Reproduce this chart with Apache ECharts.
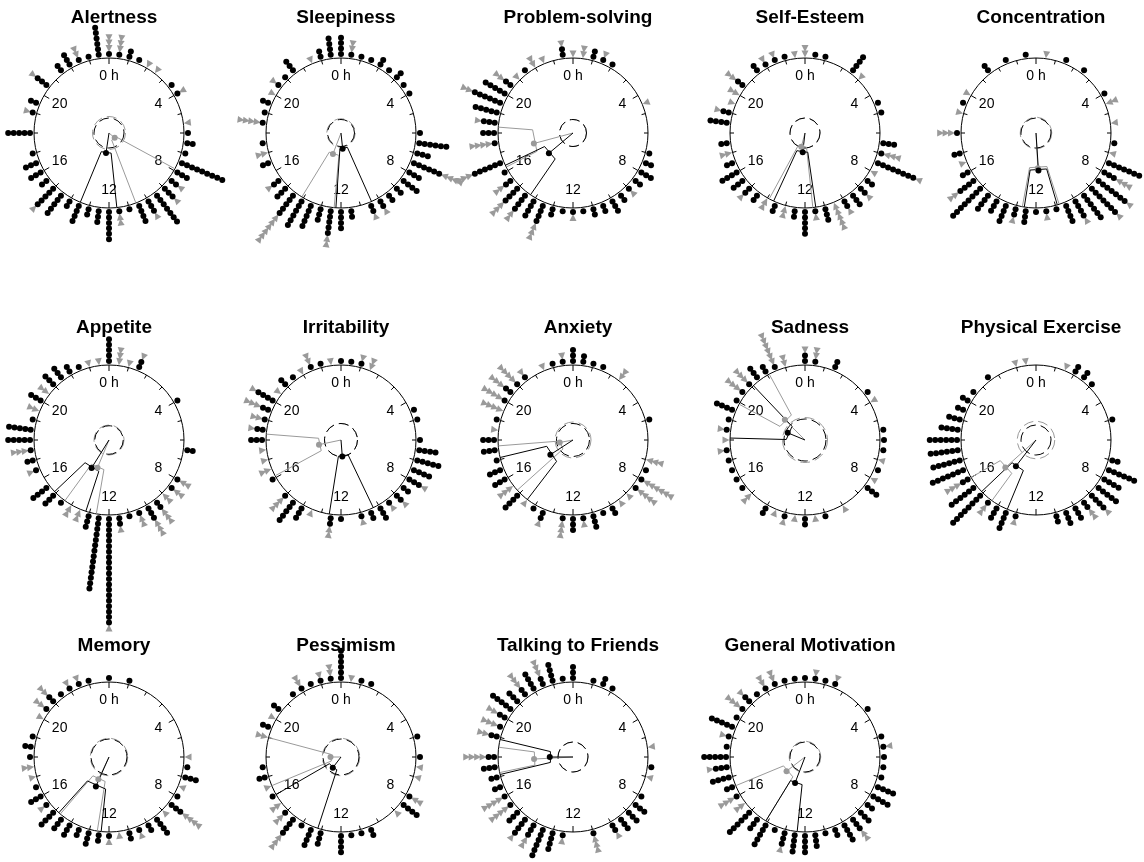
<!DOCTYPE html>
<html>
<head>
<meta charset="utf-8">
<script src="https://cdn.jsdelivr.net/npm/echarts@6/dist/echarts.min.js"></script>
<style>
  html, body { margin: 0; padding: 0; background: #fff; }
  #chart { width: 1144px; height: 862px; }
</style>
</head>
<body>
<div id="chart"></div>
<script>
const titles = [
  'Alertness', 'Sleepiness', 'Problem-solving', 'Self-Esteem', 'Concentration',
  'Appetite', 'Irritability', 'Anxiety', 'Sadness', 'Physical Exercise',
  'Memory', 'Pessimism', 'Talking to Friends', 'General Motivation',
]
const hourTicks = [0, 4, 8, 12, 16, 20]
const hourLabels = ['0 h', '4', '8', '12', '16', '20']

// stacked counts per half-hour bin (48 bins: 0h, 0.5h ... 23.5h)
// black = filled circles, gray = triangles stacked on top of them
const alertnessBlack = [
  1, 1, 2, 1, 0, 0, 0, 1, 1, 0, 0, 0,
  1, 2, 1, 9, 3, 2, 3, 7, 3, 4, 1, 1,
  6, 3, 2, 4, 2, 5, 5, 2, 3, 3, 1, 0,
  5, 0, 1, 2, 0, 3, 0, 2, 3, 1, 1, 6]
const alertnessGray = [
  3, 3, 0, 0, 1, 1, 0, 0, 1, 0, 0, 1,
  0, 0, 0, 0, 0, 1, 1, 0, 1, 0, 0, 2,
  0, 0, 0, 0, 0, 0, 1, 0, 0, 0, 0, 0,
  0, 0, 1, 0, 0, 1, 0, 0, 0, 2, 0, 0]
const sleepinessBlack = [
  4, 1, 1, 1, 2, 1, 2, 1, 1, 0, 0, 0,
  1, 6, 3, 6, 3, 4, 2, 2, 2, 2, 0, 2,
  4, 5, 3, 5, 6, 5, 3, 2, 0, 2, 0, 1,
  0, 1, 1, 2, 0, 1, 1, 3, 0, 0, 2, 4]
const sleepinessGray = [
  0, 2, 0, 0, 0, 0, 0, 0, 0, 0, 0, 0,
  0, 0, 0, 4, 0, 0, 0, 0, 1, 1, 0, 0,
  0, 2, 0, 0, 0, 6, 0, 1, 0, 0, 2, 0,
  0, 4, 0, 0, 1, 1, 0, 0, 0, 1, 0, 0]
const problemBlack = [
  0, 0, 2, 1, 1, 0, 0, 0, 0, 0, 0, 0,
  0, 0, 1, 2, 3, 2, 1, 2, 3, 2, 2, 1,
  1, 1, 2, 4, 4, 4, 4, 2, 1, 6, 0, 1,
  3, 3, 5, 6, 5, 2, 0, 1, 0, 0, 0, 2]
const problemGray = [
  1, 2, 0, 1, 0, 0, 0, 0, 0, 1, 0, 0,
  0, 0, 0, 0, 0, 0, 1, 0, 0, 0, 0, 0,
  1, 0, 0, 3, 0, 2, 3, 2, 0, 3, 0, 4,
  0, 1, 0, 2, 0, 2, 1, 0, 2, 1, 0, 1]
const esteemBlack = [
  0, 1, 1, 0, 0, 4, 0, 0, 0, 1, 1, 0,
  0, 3, 1, 8, 0, 2, 2, 3, 2, 0, 3, 1,
  5, 2, 0, 2, 0, 2, 2, 3, 4, 2, 0, 2,
  0, 4, 2, 0, 0, 2, 0, 2, 1, 1, 1, 0]
const esteemGray = [
  2, 0, 0, 0, 0, 0, 1, 0, 0, 0, 0, 0,
  0, 0, 3, 1, 1, 0, 1, 0, 1, 5, 0, 1,
  0, 0, 2, 0, 2, 0, 1, 0, 0, 0, 2, 0,
  0, 0, 1, 1, 2, 2, 0, 0, 1, 1, 0, 1]
const concentrationBlack = [
  0, 0, 0, 1, 0, 1, 0, 0, 1, 0, 0, 0,
  0, 1, 0, 7, 3, 7, 7, 6, 4, 4, 1, 1,
  1, 3, 2, 4, 3, 4, 8, 4, 2, 0, 2, 0,
  1, 0, 0, 1, 0, 0, 0, 2, 0, 1, 0, 1]
const concentrationGray = [
  0, 1, 0, 0, 0, 0, 0, 0, 0, 2, 0, 1,
  0, 0, 1, 0, 3, 1, 1, 0, 1, 0, 0, 1,
  0, 0, 1, 0, 0, 0, 0, 2, 0, 1, 0, 0,
  3, 0, 1, 0, 1, 0, 0, 0, 0, 0, 0, 0]
const appetiteBlack = [
  5, 0, 0, 2, 0, 0, 0, 0, 1, 0, 0, 0,
  0, 2, 0, 0, 1, 1, 0, 2, 3, 1, 1, 2,
  20, 14, 3, 0, 0, 1, 3, 4, 0, 1, 2, 1,
  5, 5, 1, 0, 3, 0, 3, 3, 2, 1, 0, 0]
const appetiteGray = [
  0, 3, 1, 1, 0, 0, 0, 0, 0, 0, 0, 0,
  0, 0, 0, 0, 2, 2, 2, 3, 3, 2, 0, 1,
  1, 0, 0, 2, 2, 0, 0, 0, 0, 1, 0, 3,
  0, 0, 0, 2, 0, 2, 0, 0, 0, 0, 1, 1]
const irritabilityBlack = [
  1, 1, 1, 0, 0, 0, 0, 0, 0, 1, 1, 0,
  1, 4, 5, 4, 3, 2, 2, 1, 3, 2, 1, 0,
  1, 2, 0, 0, 3, 5, 1, 0, 1, 0, 0, 0,
  3, 2, 1, 2, 4, 0, 2, 1, 0, 1, 1, 0]
const irritabilityGray = [
  0, 0, 1, 2, 0, 0, 0, 0, 0, 0, 0, 0,
  0, 0, 0, 0, 1, 0, 1, 1, 0, 0, 1, 0,
  0, 2, 0, 1, 0, 0, 3, 0, 0, 2, 1, 1,
  0, 1, 2, 3, 1, 1, 0, 0, 1, 2, 0, 1]
const anxietyBlack = [
  3, 2, 1, 1, 0, 0, 0, 0, 0, 0, 1, 0,
  0, 0, 0, 1, 1, 1, 0, 0, 2, 1, 3, 1,
  3, 1, 0, 2, 1, 0, 4, 0, 3, 3, 1, 3,
  3, 0, 1, 0, 1, 2, 1, 1, 0, 0, 1, 1]
const anxietyGray = [
  0, 0, 0, 0, 0, 2, 0, 0, 0, 0, 0, 0,
  0, 0, 3, 0, 6, 4, 1, 1, 0, 0, 0, 1,
  0, 3, 0, 1, 0, 1, 0, 3, 0, 0, 0, 0,
  0, 1, 0, 4, 4, 3, 4, 1, 0, 1, 0, 1]
const sadnessBlack = [
  2, 1, 0, 2, 0, 0, 0, 1, 0, 0, 0, 1,
  1, 1, 0, 1, 0, 3, 0, 0, 0, 0, 1, 0,
  2, 0, 1, 0, 2, 0, 0, 1, 1, 1, 1, 1,
  0, 1, 1, 4, 1, 1, 1, 3, 2, 1, 0, 0]
const sadnessGray = [
  1, 2, 0, 0, 0, 0, 0, 0, 1, 0, 0, 0,
  0, 0, 1, 0, 1, 0, 0, 0, 1, 0, 0, 1,
  0, 1, 1, 1, 0, 0, 2, 0, 0, 0, 0, 1,
  1, 1, 0, 0, 0, 3, 3, 0, 0, 6, 2, 0]
const exerciseBlack = [
  0, 0, 0, 0, 2, 2, 1, 0, 0, 0, 1, 0,
  0, 0, 2, 6, 4, 5, 4, 2, 3, 3, 2, 0,
  0, 0, 1, 4, 3, 1, 8, 6, 2, 7, 6, 6,
  6, 4, 3, 2, 2, 1, 0, 1, 0, 0, 0, 0]
const exerciseGray = [
  0, 0, 0, 1, 0, 0, 0, 0, 0, 0, 0, 0,
  0, 0, 0, 0, 0, 0, 1, 2, 0, 0, 0, 0,
  0, 0, 1, 0, 0, 2, 0, 0, 3, 0, 0, 0,
  0, 0, 0, 0, 0, 0, 0, 0, 0, 0, 1, 1]
const memoryBlack = [
  1, 0, 1, 0, 0, 0, 0, 0, 0, 0, 0, 0,
  0, 1, 3, 0, 1, 3, 0, 4, 2, 1, 2, 0,
  1, 2, 3, 2, 3, 3, 4, 1, 3, 1, 0, 0,
  1, 2, 1, 0, 0, 1, 2, 1, 1, 1, 1, 0]
const memoryGray = [
  0, 0, 0, 0, 0, 0, 0, 0, 0, 0, 0, 0,
  1, 0, 0, 1, 0, 4, 1, 0, 0, 1, 0, 1,
  1, 0, 0, 0, 0, 0, 0, 1, 0, 0, 1, 2,
  0, 0, 0, 0, 1, 2, 2, 0, 1, 1, 0, 0]
const pessimismBlack = [
  6, 0, 1, 1, 0, 0, 0, 0, 0, 0, 1, 0,
  1, 0, 0, 0, 1, 4, 0, 0, 0, 2, 1, 1,
  4, 0, 3, 4, 1, 4, 1, 0, 1, 0, 2, 1,
  0, 0, 0, 2, 0, 2, 0, 1, 1, 1, 1, 1]
const pessimismGray = [
  0, 1, 0, 0, 0, 0, 0, 0, 0, 0, 0, 0,
  0, 1, 1, 0, 2, 0, 1, 0, 0, 0, 0, 0,
  0, 0, 0, 0, 0, 3, 2, 2, 0, 1, 0, 0,
  0, 0, 2, 0, 1, 0, 0, 0, 2, 0, 1, 2]
const talkingBlack = [
  3, 0, 1, 2, 1, 0, 0, 0, 0, 0, 0, 0,
  0, 1, 0, 0, 1, 3, 3, 3, 2, 0, 1, 0,
  0, 1, 4, 6, 3, 4, 3, 1, 1, 2, 2, 3,
  2, 0, 2, 1, 2, 5, 3, 2, 4, 2, 4, 1]
const talkingGray = [
  0, 0, 0, 0, 0, 0, 0, 0, 0, 0, 0, 1,
  0, 0, 1, 0, 0, 0, 0, 0, 1, 0, 3, 0,
  0, 1, 0, 0, 2, 1, 0, 4, 4, 0, 0, 0,
  4, 0, 2, 3, 2, 0, 0, 3, 0, 3, 0, 0]
const motivationBlack = [
  1, 1, 1, 1, 0, 0, 0, 1, 0, 0, 1, 1,
  1, 1, 1, 4, 4, 2, 3, 3, 4, 2, 1, 3,
  4, 4, 3, 1, 5, 3, 6, 0, 1, 2, 4, 3,
  5, 1, 1, 5, 1, 1, 2, 1, 1, 1, 1, 1]
const motivationGray = [
  0, 1, 0, 1, 0, 0, 0, 0, 0, 0, 0, 1,
  0, 0, 0, 0, 0, 0, 0, 2, 0, 0, 0, 0,
  0, 0, 1, 0, 0, 0, 0, 2, 3, 0, 0, 1,
  0, 0, 1, 0, 0, 3, 1, 0, 2, 2, 0, 0]

// [mean hour, mean resultant length, CI low, CI high, dashed ring radius]
const alertnessSummary = [[12.57, 0.27, 11.6, 13.5, 0.2], [8.7, 0.1, 7.9, 10.6, 0.22]]
const sleepinessSummary = [[11.6, 0.21, 10.4, 12.26, 0.18], [13.4, 0.3, 12.35, 14.1, 0.19]]
const problemSummary = [[15.33, 0.42, 14.3, 16.3, 0.18], [17, 0.54, 16.2, 18.3, 0.18]]
const esteemSummary = [[12.45, 0.26, 11.45, 13.65, 0.2], [13.0, 0.19, 11.6, 13.9, 0.2]]
const concentrationSummary = [[11.75, 0.5, 10.9, 12.6, 0.2], [11.8, 0.47, 10.8, 12.7, 0.21]]
const appetiteSummary = [[14.13, 0.44, 13.2, 15.1, 0.19], [13.5, 0.4, 12.65, 14.4, 0.2]]
const irritabilitySummary = [[11.7, 0.22, 10.3, 12.6, 0.22], [17.2, 0.3, 16.1, 18.3, 0.22]]
const anxietySummary = [[15.8, 0.36, 14.5, 17.1, 0.22], [17.3, 0.18, 15.2, 17.7, 0.24]]
const sadnessSummary = [[19.5, 0.25, 18.1, 21.1, 0.28], [21.0, 0.38, 19.9, 22.1, 0.3]]
const exerciseSummary = [[14.5, 0.44, 13.5, 15.1, 0.2], [15.2, 0.55, 14.4, 16.0, 0.25]]
const memorySummary = [[13.6, 0.43, 12.4, 14.8, 0.24], [13.7, 0.33, 12.6, 14.7, 0.25]]
const pessimismSummary = [[14.5, 0.18, 13.2, 16.0, 0.24], [18.0, 0.14, 16.5, 19.0, 0.25]]
const talkingSummary = [[18.0, 0.31, 17.1, 18.9, 0.2], [17.8, 0.52, 17.2, 18.5, 0.2]]
const motivationSummary = [[13.4, 0.37, 12.4, 14.1, 0.2], [15.5, 0.31, 14.1, 16.5, 0.21]]

const panels = [
  [alertnessBlack, alertnessGray, alertnessSummary],
  [sleepinessBlack, sleepinessGray, sleepinessSummary],
  [problemBlack, problemGray, problemSummary],
  [esteemBlack, esteemGray, esteemSummary],
  [concentrationBlack, concentrationGray, concentrationSummary],
  [appetiteBlack, appetiteGray, appetiteSummary],
  [irritabilityBlack, irritabilityGray, irritabilitySummary],
  [anxietyBlack, anxietyGray, anxietySummary],
  [sadnessBlack, sadnessGray, sadnessSummary],
  [exerciseBlack, exerciseGray, exerciseSummary],
  [memoryBlack, memoryGray, memorySummary],
  [pessimismBlack, pessimismGray, pessimismSummary],
  [talkingBlack, talkingGray, talkingSummary],
  [motivationBlack, motivationGray, motivationSummary],
]

// layout
const colX = [109, 341, 573, 805, 1036]
const rowY = [133, 440, 757]
const titleTop = [3, 313, 631]
const R = 75            // circle radius in px
const OUTER = 4         // outer polar spans 4 circle radii
const GAP = 0.053       // first stacked point just outside the circle
const STEP = 0.0727     // distance between stacked points
const LABEL_R = 0.76    // hour labels sit inside the circle
const FONT = 'Liberation Sans, Arial, sans-serif'
const GRAY = '#9a9a9a'

const title = [], polar = [], angleAxis = [], radiusAxis = [], series = []

function summarySeries(s, color, polarIndex) {
  const [mean, len, lo, hi, ring] = s
  const base = { coordinateSystem: 'polar', polarIndex, silent: true, animation: false }
  return [
    { ...base, type: 'scatter', data: [[0, 0]], symbol: 'circle', symbolSize: ring * 2 * R,
      itemStyle: { color: 'rgba(0,0,0,0)', borderColor: color, borderWidth: 1, borderType: [10, 5], opacity: 1 }, z: 3 },
    { ...base, type: 'line', data: [[1, lo], [len, lo], [len, hi], [1, hi]], symbol: 'none',
      lineStyle: { color, width: 1 }, z: 4 },
    { ...base, type: 'line', data: [{ value: [0, mean], symbol: 'none' }, { value: [len, mean], symbol: 'circle', symbolSize: 6 }],
      showSymbol: true, symbol: 'none', itemStyle: { color, opacity: 1 }, lineStyle: { color, width: 1 }, z: 5 },
  ]
}

panels.forEach(([black, gray, summary], i) => {
  const row = Math.floor(i / 5)
  const center = [colX[i % 5], rowY[row]]
  title.push({
    text: titles[i], left: center[0], top: titleTop[row], textAlign: 'center',
    textStyle: { fontSize: 19, fontWeight: 'bold', color: '#000', fontFamily: FONT },
  })

  // circle with hour ticks
  const inner = polar.length
  polar.push({ center, radius: R })
  angleAxis.push({
    polarIndex: inner, type: 'value', min: 0, max: 24, interval: 4, startAngle: 90, clockwise: true,
    axisLine: { lineStyle: { color: '#000', width: 1 } },
    axisTick: { inside: true, length: 6, lineStyle: { color: '#000', width: 1 } },
    minorTick: { show: true, splitNumber: 4, length: 4, lineStyle: { color: '#000', width: 1 } },
    splitLine: { show: false },
    axisLabel: { show: false },
  })
  radiusAxis.push({ polarIndex: inner, type: 'value', min: 0, max: 1, show: false })

  series.push({
    type: 'scatter', coordinateSystem: 'polar', polarIndex: inner, silent: true, animation: false,
    data: hourTicks.map((h, k) => ({ value: [LABEL_R, h], name: hourLabels[k] })),
    symbolSize: 0, itemStyle: { opacity: 1 },
    label: { show: true, position: 'inside', formatter: '{b}', color: '#000', fontSize: 14, fontFamily: FONT },
  })

  // outer frame for stacked observations
  const outer = polar.length
  polar.push({ center, radius: R * OUTER })
  angleAxis.push({ polarIndex: outer, type: 'value', min: 0, max: 24, startAngle: 90, clockwise: true, show: false })
  radiusAxis.push({ polarIndex: outer, type: 'value', min: 0, max: OUTER, show: false })

  const blackPts = [], grayPts = []
  black.forEach((n, b) => {
    for (let k = 0; k < n; k++) blackPts.push([1 + GAP + STEP * k, b / 2])
  })
  gray.forEach((n, b) => {
    for (let k = 0; k < n; k++) {
      grayPts.push({ value: [1 + GAP + STEP * (black[b] + k), b / 2], symbolRotate: 180 - b * 7.5 })
    }
  })
  series.push({
    type: 'scatter', coordinateSystem: 'polar', polarIndex: outer, data: grayPts,
    symbol: 'triangle', symbolSize: 7, itemStyle: { color: GRAY, opacity: 1 }, silent: true, animation: false,
  })
  series.push({
    type: 'scatter', coordinateSystem: 'polar', polarIndex: outer, data: blackPts,
    symbol: 'circle', symbolSize: 6, itemStyle: { color: '#000', opacity: 1 }, silent: true, animation: false,
  })

  series.push(...summarySeries(summary[1], GRAY, inner))
  series.push(...summarySeries(summary[0], '#000', inner))
})

const chart = echarts.init(document.getElementById('chart'))
chart.setOption({
  backgroundColor: '#fff',
  animation: false,
  title, polar, angleAxis, radiusAxis, series,
})
</script>
</body>
</html>
